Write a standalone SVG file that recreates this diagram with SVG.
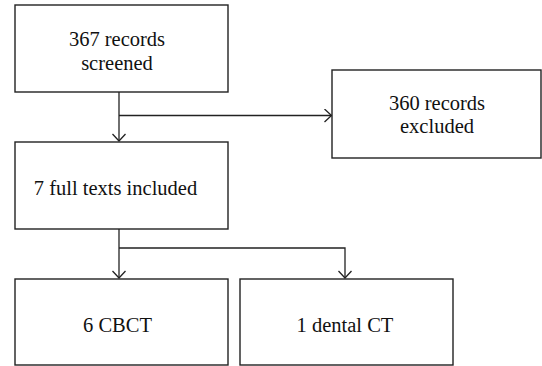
<svg xmlns="http://www.w3.org/2000/svg" width="542" height="366" viewBox="0 0 542 366">
<defs>
<style>
.box{fill:#fff;stroke:#222;stroke-width:1.4}
.lbl{font-family:"Liberation Serif","Times New Roman",serif;font-size:20.5px;fill:#111;text-anchor:middle}
.con{fill:none;stroke:#222;stroke-width:1.3}
</style>
<marker id="arr" viewBox="0 0 14 14" refX="12" refY="7" markerWidth="14" markerHeight="14" markerUnits="userSpaceOnUse" orient="auto">
<path d="M5,0.5 L12,7 L5,13.5" fill="none" stroke="#222" stroke-width="1.3"/>
</marker>
</defs>
<rect width="542" height="366" fill="#fff"/>
<g id="connectors">
<path class="con" d="M119,92 V141" marker-end="url(#arr)"/>
<path class="con" d="M119,115.5 H331.5" marker-end="url(#arr)"/>
<path class="con" d="M119,229 V278" marker-end="url(#arr)"/>
<path class="con" d="M119,248 H345 V278" marker-end="url(#arr)"/>
</g>
<g id="n1">
<rect class="box" x="15" y="5" width="213" height="87"/>
<text class="lbl" x="117" y="45.5">367 records</text>
<text class="lbl" x="117" y="69.5">screened</text>
</g>
<g id="n2">
<rect class="box" x="332" y="70" width="209" height="88"/>
<text class="lbl" x="437" y="110">360 records</text>
<text class="lbl" x="437" y="133">excluded</text>
</g>
<g id="n3">
<rect class="box" x="15" y="142" width="213" height="87"/>
<text class="lbl" x="115.5" y="195">7 full texts included</text>
</g>
<g id="n4">
<rect class="box" x="15" y="279" width="213" height="86"/>
<text class="lbl" x="117.5" y="331.5">6 CBCT</text>
</g>
<g id="n5">
<rect class="box" x="240" y="279" width="213" height="86"/>
<text class="lbl" x="345" y="331.5">1 dental CT</text>
</g>
</svg>
